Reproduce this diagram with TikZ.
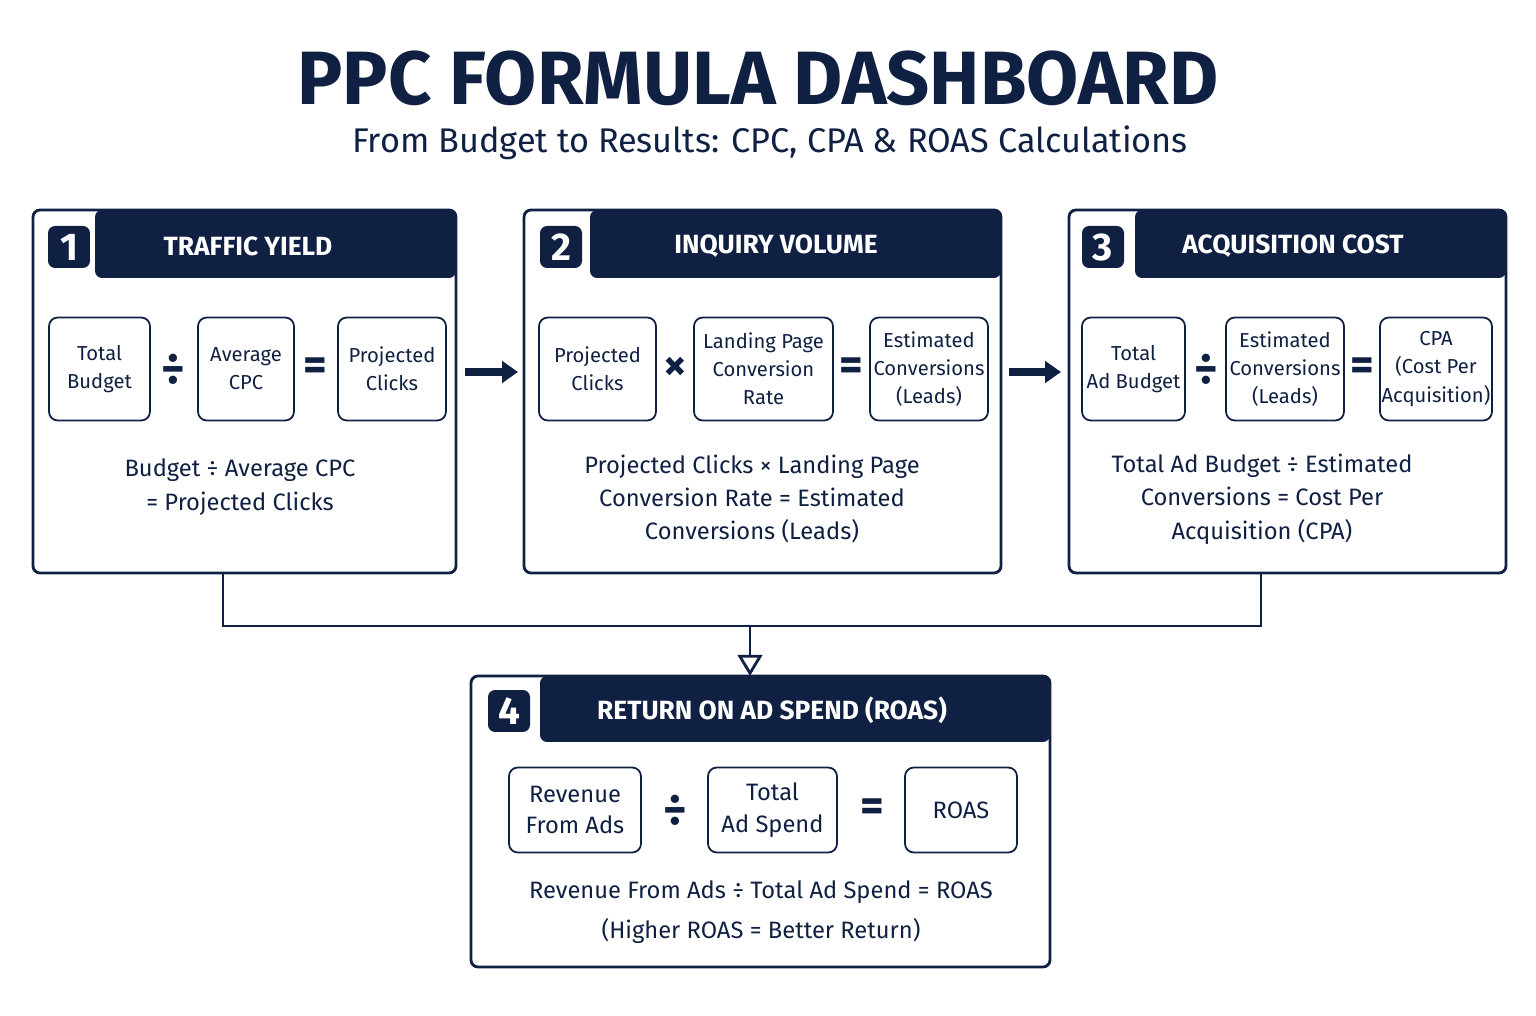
\documentclass[tikz,border=0pt]{standalone}
\usepackage{fontspec}
\setmainfont{Fira Sans}
\usetikzlibrary{arrows.meta}
\definecolor{navy}{RGB}{16,32,66}

\begin{document}
\begin{tikzpicture}[x=0.02cm,y=-0.02cm,
    panel/.style={draw=navy, line width=1.6pt, rounded corners=4pt},
    band/.style={fill=navy, rounded corners=4pt},
    badge/.style={fill=navy, text=white, rounded corners=4pt, minimum size=0.84cm, inner sep=0pt, font=\fontsize{22}{22}\selectfont\bfseries},
    head/.style={text=white, font=\fontsize{15}{15}\selectfont\bfseries},
    box/.style={draw=navy, line width=1pt, rounded corners=5pt, align=center, inner sep=0pt, text=navy, font=\fontsize{11.5}{16}\selectfont},
    bigbox/.style={box, font=\fontsize{13.5}{18}\selectfont},
    op/.style={text=navy, inner sep=0pt, font=\fontsize{26}{26}\selectfont\bfseries},
    desc/.style={text=navy, align=center, font=\fontsize{13.5}{19}\selectfont},
    link/.style={draw=navy, line width=1.6pt}]
  \useasboundingbox (0,0) rectangle (1536,1016);

  \node[text=navy, font=\fontsize{43}{43}\selectfont\bfseries] (title) at (758,78) {PPC FORMULA DASHBOARD};
  \node[text=navy, font=\fontsize{19.5}{20}\selectfont] (sub) at (770,143) {From Budget to Results: CPC, CPA \& ROAS Calculations};

  % panel 1
  \fill[band] (95,210) rectangle (456,278);
  \draw[panel] (33,210) rectangle (456,573);
  \node[badge] at (69,247) {1};
  \node[head] at (248,246) {TRAFFIC YIELD};
  \node[box, minimum width=2.02cm, minimum height=2.06cm] (b11) at (99.5,369) {Total\\Budget};
  \node[op] (o11) at (173,369) {÷};
  \node[box, minimum width=1.92cm, minimum height=2.06cm] (b12) at (246,369) {Average\\CPC};
  \node[op] (o12) at (315,369) {=};
  \node[box, minimum width=2.16cm, minimum height=2.06cm] (b13) at (392,369) {Projected\\Clicks};
  \node[desc] (d1) at (240,487) {Budget ÷ Average CPC\\= Projected Clicks};

  % panel 2
  \fill[band] (590,210) rectangle (1001,278);
  \draw[panel] (524,210) rectangle (1001,573);
  \node[badge] at (561,247) {2};
  \node[head] at (776,246) {INQUIRY VOLUME};
  \node[box, minimum width=2.34cm, minimum height=2.06cm] (b21) at (597.5,369) {Projected\\Clicks};
  \node[op] (o21) at (675,369) {×};
  \node[box, minimum width=2.78cm, minimum height=2.06cm] (b22) at (763.5,369) {Landing Page\\Conversion\\Rate};
  \node[op] (o22) at (851,369) {=};
  \node[box, minimum width=2.36cm, minimum height=2.06cm] (b23) at (929,369) {Estimated\\Conversions\\(Leads)};
  \node[desc] (d2) at (752,499) {Projected Clicks × Landing Page\\Conversion Rate = Estimated\\Conversions (Leads)};

  % panel 3
  \fill[band] (1135,210) rectangle (1506,278);
  \draw[panel] (1069,210) rectangle (1506,573);
  \node[badge] at (1103,247) {3};
  \node[head] at (1293,246) {ACQUISITION COST};
  \node[box, minimum width=2.06cm, minimum height=2.06cm] (b31) at (1133.5,369) {Total\\Ad Budget};
  \node[op] (o31) at (1206,369) {÷};
  \node[box, minimum width=2.36cm, minimum height=2.06cm] (b32) at (1285,369) {Estimated\\Conversions\\(Leads)};
  \node[op] (o32) at (1362,369) {=};
  \node[box, minimum width=2.24cm, minimum height=2.06cm] (b33) at (1436,369) {CPA\\(Cost Per\\Acquisition)};
  \node[desc] (d3) at (1262,499) {Total Ad Budget ÷ Estimated\\Conversions = Cost Per\\Acquisition (CPA)};

  % panel 4
  \fill[band] (540,676) rectangle (1050,742);
  \draw[panel] (471,676) rectangle (1050,967);
  \node[badge] at (509,711) {4};
  \node[head] at (772,710) {RETURN ON AD SPEND (ROAS)};
  \node[bigbox, minimum width=2.64cm, minimum height=1.70cm] (b41) at (575,810) {Revenue\\From Ads};
  \node[op] (o41) at (675,810) {÷};
  \node[bigbox, minimum width=2.58cm, minimum height=1.70cm] (b42) at (772.5,810) {Total\\Ad Spend};
  \node[op] (o42) at (872,810) {=};
  \node[bigbox, minimum width=2.24cm, minimum height=1.70cm] (b43) at (961,810) {ROAS};
  \node[desc] (d4) at (761,912) {Revenue From Ads ÷ Total Ad Spend = ROAS\\[4pt](Higher ROAS = Better Return)};

  % connectors
  \coordinate (a1) at (465,372); \coordinate (a2) at (518,372);
  \coordinate (a3) at (1009,372); \coordinate (a4) at (1061,372);
  \draw[link, line width=4pt, -{Triangle[length=9pt,width=12pt]}] (a1) -- (a2);
  \draw[link, line width=4pt, -{Triangle[length=9pt,width=12pt]}] (a3) -- (a4);
  \coordinate (p1) at (223,573); \coordinate (p3) at (1261,573);
  \coordinate (m) at (750,626); \coordinate (p4) at (750,676);
  \draw[link] (p1) |- (m) -| (p3);
  \draw[link, -{Triangle[open,length=12pt,width=14pt,fill=white]}] (m) -- (p4);
\end{tikzpicture}
\end{document}
